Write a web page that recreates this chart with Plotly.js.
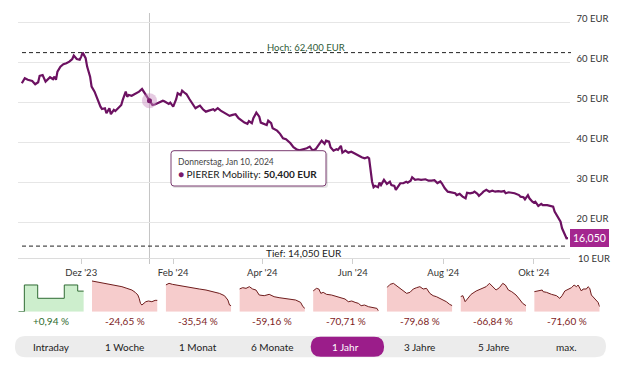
<!DOCTYPE html>
<html><head><meta charset="utf-8">
<script src="https://cdn.plot.ly/plotly-3.0.1.min.js"></script>
<style>html,body{margin:0;padding:0;background:#fff}#chart{width:620px;height:365px}</style>
</head><body><div id="chart"></div>
<script>
// ---------- DATA ----------
const dates = ['2023-10-22','2023-10-24','2023-10-26','2023-10-29','2023-10-31','2023-11-02','2023-11-03','2023-11-05','2023-11-07','2023-11-09','2023-11-10','2023-11-12','2023-11-13','2023-11-14','2023-11-15','2023-11-17','2023-11-19','2023-11-21','2023-11-23','2023-11-25','2023-11-26','2023-11-28','2023-11-30','2023-12-01','2023-12-02','2023-12-04','2023-12-05','2023-12-07','2023-12-08','2023-12-10','2023-12-12','2023-12-14','2023-12-15','2023-12-17','2023-12-18','2023-12-20','2023-12-21','2023-12-23','2023-12-24','2023-12-26','2023-12-28','2023-12-29','2023-12-31','2024-01-01','2024-01-02','2024-01-04','2024-01-06','2024-01-07','2024-01-09','2024-01-11','2024-01-13','2024-01-14','2024-01-16','2024-01-18','2024-01-20','2024-01-22','2024-01-25','2024-01-26','2024-01-29','2024-01-30','2024-02-01','2024-02-03','2024-02-04','2024-02-06','2024-02-07','2024-02-09','2024-02-10','2024-02-12','2024-02-14','2024-02-16','2024-02-17','2024-02-19','2024-02-21','2024-02-23','2024-02-25','2024-02-28','2024-02-29','2024-03-02','2024-03-04','2024-03-06','2024-03-08','2024-03-10','2024-03-12','2024-03-14','2024-03-16','2024-03-18','2024-03-20','2024-03-22','2024-03-23','2024-03-25','2024-03-26','2024-03-28','2024-03-30','2024-03-31','2024-04-02','2024-04-04','2024-04-05','2024-04-07','2024-04-08','2024-04-11','2024-04-13','2024-04-15','2024-04-17','2024-04-20','2024-04-22','2024-04-24','2024-04-26','2024-04-28','2024-05-01','2024-05-03','2024-05-05','2024-05-07','2024-05-10','2024-05-11','2024-05-13','2024-05-14','2024-05-16','2024-05-17','2024-05-19','2024-05-21','2024-05-22','2024-05-24','2024-05-25','2024-05-27','2024-05-29','2024-05-31','2024-06-02','2024-06-05','2024-06-07','2024-06-09','2024-06-11','2024-06-12','2024-06-13','2024-06-14','2024-06-15','2024-06-16','2024-06-18','2024-06-19','2024-06-20','2024-06-22','2024-06-24','2024-06-26','2024-06-27','2024-06-29','2024-06-30','2024-07-02','2024-07-03','2024-07-05','2024-07-07','2024-07-08','2024-07-10','2024-07-11','2024-07-13','2024-07-15','2024-07-17','2024-07-20','2024-07-22','2024-07-24','2024-07-26','2024-07-28','2024-07-30','2024-07-31','2024-08-02','2024-08-04','2024-08-07','2024-08-09','2024-08-10','2024-08-12','2024-08-14','2024-08-16','2024-08-17','2024-08-19','2024-08-21','2024-08-22','2024-08-24','2024-08-25','2024-08-27','2024-08-28','2024-08-30','2024-09-01','2024-09-03','2024-09-05','2024-09-07','2024-09-09','2024-09-11','2024-09-12','2024-09-14','2024-09-16','2024-09-18','2024-09-21','2024-09-22','2024-09-24','2024-09-25','2024-09-27','2024-09-28','2024-09-30','2024-10-01','2024-10-02','2024-10-04','2024-10-06','2024-10-07','2024-10-10','2024-10-12','2024-10-14','2024-10-15','2024-10-17','2024-10-19','2024-10-20','2024-10-22','2024-10-23','2024-10-24'];
const prices = [54.75,56.0,55.6,55.3,54.5,55.0,56.6,56.8,55.15,55.75,56.25,55.75,56.4,55.6,57.65,58.9,59.5,59.75,60.15,60.8,61.65,60.8,60.6,61.4,62.4,61.0,58.9,56.4,53.9,52.65,50.6,48.9,48.3,48.5,47.25,48.5,47.0,48.1,47.8,48.65,49.3,50.6,52.65,51.4,51.8,51.6,52.0,52.25,52.65,53.3,52.25,51.65,50.4,49.3,49.5,49.8,50.4,50.25,49.6,49.9,48.9,50.75,52.25,51.8,52.9,52.25,52.0,50.75,49.6,48.5,48.75,49.15,48.25,47.65,47.9,48.25,47.9,48.5,47.9,47.4,47.1,46.6,46.85,47.0,46.0,45.4,44.9,44.6,45.3,44.75,46.0,47.4,46.4,44.9,44.6,44.3,45.4,44.75,43.5,42.9,42.1,41.0,40.75,39.75,38.75,38.25,38.0,38.2,38.5,38.9,37.9,38.3,39.75,40.4,39.6,40.4,40.15,38.75,37.9,38.25,38.1,39.1,37.4,37.9,37.4,37.65,37.25,36.6,36.25,36.0,36.25,36.0,33.1,30.15,28.75,29.1,28.75,29.9,29.3,30.6,29.6,30.15,29.3,29.1,28.1,29.1,29.75,29.75,30.15,29.9,30.4,31.25,30.6,30.75,30.6,30.75,30.4,30.4,30.5,29.8,30.2,29.75,28.5,27.65,27.4,27.25,26.8,27.1,26.4,26.0,27.4,27.25,27.4,27.65,27.1,26.6,27.25,27.65,28.1,27.65,27.9,27.65,27.8,27.65,27.8,27.25,27.5,27.4,27.25,26.8,26.4,26.25,25.75,26.8,26.0,25.15,24.9,25.15,24.1,24.6,24.3,24.3,24.15,23.9,22.65,21.4,20.15,18.5,16.8,16.0,16.05];

const seriesName = 'PIERER Mobility';
const highValue = 62.4, lowValue = 14.05, lastValue = 16.05;
const highText = 'Hoch: 62,400 EUR', lowText = 'Tief: 14,050 EUR', lastText = '16,050';
const hoverDate = '2024-01-16', hoverValue = 50.4;
const tooltipTitle = 'Donnerstag, Jan 10, 2024', tooltipValue = '50,400 EUR';

const xTickVals = ['2023-12-01','2024-02-01','2024-04-01','2024-06-01','2024-08-01','2024-10-01'];
const xTickText = ["Dez '23","Feb '24","Apr '24","Jun '24","Aug '24","Okt '24"];
const yTickVals = [20,30,40,50,60,70];
const yTickText = ['20 EUR','30 EUR','40 EUR','50 EUR','60 EUR','70 EUR'];
const yBottomLabel = '10 EUR';

const periodLabels = ['Intraday','1 Woche','1 Monat','6 Monate','1 Jahr','3 Jahre','5 Jahre','max.'];
const periodChanges = ['+0,94 %','-24,65 %','-35,54 %','-59,16 %','-70,71 %','-79,68 %','-66,84 %','-71,60 %'];
const activePeriod = 4;

const sparkIntradayX = [0,9.2,29.6,70.2,90.7,100];
const sparkIntradayY = [0,81.7,41,81.7,63,63];
const sparkWeekX = [0,10.2,20.3,30.5,35.5,45.7,53.3,60.9,66,70,72,74,76.1,78.7,82.2,86.3,91.4,96.4,100];
const sparkWeekY = [93.9,89.8,86.7,83.7,81.6,76.5,71.4,66.3,59.2,51,40.8,25.5,20.4,25.5,30.6,32.7,30.6,34.7,34.7];
const sparkMonthX = [0,5.1,10.3,20.5,30.8,41,51.3,61.5,71.8,82,89.7,94.9,97.4,100];
const sparkMonthY = [81.6,86.7,83.7,79.6,76.5,73.5,69.4,66.3,61.2,56.1,49,35.7,20.4,18.4];
const spark6MX = [0,5.1,10.1,15.2,20.2,25.3,30.3,37.9,45.5,53,60.6,68.2,75.8,85.9,93.4,97,100];
const spark6MY = [69.4,73.5,71.4,76.5,69.4,66.3,51,49,53.1,45.9,42.9,40.8,38.8,35.7,28.6,15.3,10.2];
const spark1YX = [0,5.1,8.7,11.8,15.4,20.5,28.2,35.9,43.6,48.7,53.8,59,64.1,69.2,73.3,78.5,84.6,92.3,97.4,100];
const spark1YY = [63.3,71.4,69.4,56.1,59.2,53.1,51,45.9,40.8,38.8,30.6,32.7,28.6,25.5,18.4,20.4,15.3,12.2,10.2,2];
const spark3YX = [0,5.1,10.1,15.2,22.7,30.3,35.4,40.4,45.5,50.5,55.6,60.6,65.7,70.7,75.8,80.8,85.9,90.9,96,100];
const spark3YY = [73.5,83.7,86.7,79.6,69.4,56.1,59.2,69.4,73.5,76.5,69.4,71.4,56.1,49,45.9,40.8,35.7,30.6,22.4,18.4];
const spark5YX = [0,3.6,7.1,11.2,16.2,23.9,31.5,39.1,44.2,49.2,54.3,59.4,64.5,68.5,73.1,78.2,84.8,89.8,94.9,100];
const spark5YY = [45.9,49,30.6,40.8,53.1,63.3,69.4,76.5,86.7,76.5,66.3,73.5,86.7,81.6,66.3,61.2,51,38.8,25.5,18.4];
const sparkMaxX = [0,6.1,12.2,13.7,18.8,26.4,34,39.1,42.6,46.7,51.8,56.9,60.9,64.5,67,69.5,72.1,74.6,79.7,82.2,84.8,87.3,91.4,94.9,97.5,100];
const sparkMaxY = [61.2,63.3,66.3,61.2,59.2,53.1,49,40.8,49,63.3,69.4,73.5,81.6,76.5,81.6,71.4,63.3,69.4,69.4,76.5,71.4,51,42.9,35.7,28.6,15.3];

// ---------- LAYOUT HELPERS ----------
const W = 620, H = 365;
const fx = px => px / W;
const fy = py => 1 - py / H;
const FONT = 'Lato, "Noto Sans", sans-serif';
const purple = '#6c1161';

function roundRect(x0, y0, x1, y1, r) {
  const a = (x, y) => fx(x).toFixed(5) + ',' + fy(y).toFixed(5);
  return 'M' + a(x0 + r, y0) + ' L' + a(x1 - r, y0) + ' Q' + a(x1, y0) + ' ' + a(x1, y0 + r) +
    ' L' + a(x1, y1 - r) + ' Q' + a(x1, y1) + ' ' + a(x1 - r, y1) +
    ' L' + a(x0 + r, y1) + ' Q' + a(x0, y1) + ' ' + a(x0, y1 - r) +
    ' L' + a(x0, y0 + r) + ' Q' + a(x0, y0) + ' ' + a(x0 + r, y0) + ' Z';
}

const sparks = [
  [sparkIntradayX, sparkIntradayY], [sparkWeekX, sparkWeekY], [sparkMonthX, sparkMonthY],
  [spark6MX, spark6MY], [spark1YX, spark1YY], [spark3YX, spark3YY],
  [spark5YX, spark5YY], [sparkMaxX, sparkMaxY]
];

const traces = [];
traces.push({
  x: dates, y: prices, type: 'scatter', mode: 'lines',
  line: {color: purple, width: 2.2}, xaxis: 'x', yaxis: 'y', hoverinfo: 'skip'
});
traces.push({
  x: [hoverDate], y: [hoverValue], type: 'scatter', mode: 'markers',
  marker: {size: 15, color: 'rgba(200,140,190,0.45)'}, xaxis: 'x', yaxis: 'y', hoverinfo: 'skip'
});
traces.push({
  x: [hoverDate], y: [hoverValue], type: 'scatter', mode: 'markers',
  marker: {size: 5, color: '#7a1a6b'}, xaxis: 'x', yaxis: 'y', hoverinfo: 'skip'
});

const layout = {
  width: W, height: H,
  margin: {l: 0, r: 0, t: 0, b: 0},
  paper_bgcolor: '#fff', plot_bgcolor: '#fff',
  showlegend: false, hovermode: false,
  font: {family: FONT, color: '#333', size: 10},
  xaxis: {
    type: 'date', domain: [fx(18), fx(569.5)],
    range: ['2023-10-19 10:00', '2024-10-25 00:30'],
    tickvals: xTickVals, ticktext: xTickText,
    showgrid: false, zeroline: false,
    showline: true, linecolor: '#dcdcdc', linewidth: 1,
    ticks: 'outside', ticklen: 5, tickcolor: '#cfcfcf',
    tickfont: {size: 9.5, color: '#333', family: FONT},
    fixedrange: true
  },
  yaxis: {
    domain: [fy(258.3), fy(13)], range: [11.0, 72.3],
    side: 'right', tickvals: yTickVals, ticktext: yTickText,
    showgrid: true, gridcolor: '#e6e6e6', gridwidth: 1,
    zeroline: false, showline: false, ticks: '',
    ticklabelshift: -4, ticklabelstandoff: 6,
    tickfont: {size: 9.5, color: '#333', family: FONT},
    fixedrange: true
  },
  shapes: [], annotations: []
};

// sparkline subplots
const periodCenters = [];
for (let i = 0; i < 8; i++) {
  const x0 = 18.3 + 73.7 * i, x1 = x0 + 65.5;
  periodCenters.push((x0 + x1) / 2);
  const n = i + 2;
  layout['xaxis' + n] = {domain: [fx(x0), fx(x1)], range: [0, 100], visible: false, fixedrange: true, anchor: 'y' + n};
  layout['yaxis' + n] = {domain: [fy(311.7), fy(279)], range: [0, 100], visible: false, fixedrange: true, anchor: 'x' + n};
  const pos = i === 0;
  traces.push({
    x: sparks[i][0], y: sparks[i][1], type: 'scatter', mode: 'lines',
    fill: 'tozeroy', fillcolor: pos ? '#cdeecd' : '#f6cccc',
    line: {color: pos ? '#2f6b33' : '#6e1c1c', width: 1, shape: pos ? 'hv' : 'linear'},
    xaxis: 'x' + n, yaxis: 'y' + n, hoverinfo: 'skip'
  });
}

// crosshair
layout.shapes.push({type: 'line', xref: 'x', yref: 'paper', x0: hoverDate, x1: hoverDate,
  y0: fy(264), y1: fy(13), line: {color: '#c4c4c4', width: 1}, layer: 'below'});
// high / low dashed
layout.shapes.push({type: 'line', xref: 'paper', yref: 'y', x0: fx(22), x1: fx(571), y0: highValue, y1: highValue,
  line: {color: '#222', width: 1, dash: '4px,3px'}});
layout.shapes.push({type: 'line', xref: 'paper', yref: 'y', x0: fx(22), x1: fx(568), y0: lowValue, y1: lowValue,
  line: {color: '#222', width: 1, dash: '4px,3px'}});
// tooltip box
layout.shapes.push({type: 'path', xref: 'paper', yref: 'paper', path: roundRect(172, 152, 328, 188, 3),
  fillcolor: 'rgba(0,0,0,0.10)', line: {width: 0}});
layout.shapes.push({type: 'path', xref: 'paper', yref: 'paper', path: roundRect(171, 150.7, 326, 186, 3),
  fillcolor: '#ffffff', line: {color: '#7a3c70', width: 1}});
// button bar
layout.shapes.push({type: 'path', xref: 'paper', yref: 'paper', path: roundRect(15, 336, 606, 357.3, 10.5),
  fillcolor: '#ececec', line: {width: 0}});
layout.shapes.push({type: 'path', xref: 'paper', yref: 'paper', path: roundRect(310.7, 336.7, 384.1, 356.7, 10),
  fillcolor: '#9b1d8a', line: {width: 0}});

// annotations
const A = layout.annotations;
A.push({xref: 'paper', yref: 'paper', x: fx(306), y: fy(47.5), text: highText, showarrow: false,
  font: {size: 9.5, color: '#2f5a38', family: FONT}, xanchor: 'center', yanchor: 'middle'});
A.push({xref: 'paper', yref: 'paper', x: fx(304), y: fy(253), text: lowText, showarrow: false,
  font: {size: 10, color: '#222', family: FONT}, xanchor: 'center', yanchor: 'middle'});
A.push({xref: 'paper', yref: 'y', x: fx(570), y: lastValue, text: lastText, showarrow: false,
  bgcolor: '#a4268f', bordercolor: '#a4268f', borderpad: 2,
  font: {size: 10.5, color: '#fff', family: FONT}, xanchor: 'left', yanchor: 'middle'});
A.push({xref: 'paper', yref: 'paper', x: fx(575.5), y: fy(258.3), text: yBottomLabel, showarrow: false,
  font: {size: 9.5, color: '#333', family: FONT}, xanchor: 'left', yanchor: 'middle'});
A.push({xref: 'paper', yref: 'paper', x: fx(176), y: fy(161.5), text: tooltipTitle, showarrow: false,
  font: {size: 8.5, color: '#444', family: FONT}, xanchor: 'left', yanchor: 'middle'});
A.push({xref: 'paper', yref: 'paper', x: fx(176), y: fy(173.5),
  text: '<span style="color:#7a1a6b">●</span> ' + seriesName + ': <b>' + tooltipValue + '</b>', showarrow: false,
  font: {size: 10, color: '#222', family: FONT}, xanchor: 'left', yanchor: 'middle'});

for (let i = 0; i < 8; i++) {
  const pos = periodChanges[i].startsWith('+');
  A.push({xref: 'paper', yref: 'paper', x: fx(periodCenters[i]), y: fy(321), text: periodChanges[i], showarrow: false,
    font: {size: 10, color: pos ? '#2e6b2e' : '#7e1d1d', family: FONT}, xanchor: 'center', yanchor: 'middle'});
  A.push({xref: 'paper', yref: 'paper', x: fx(periodCenters[i]), y: fy(346.8), text: periodLabels[i], showarrow: false,
    font: {size: 10, color: i === activePeriod ? '#ffffff' : '#222', family: FONT}, xanchor: 'center', yanchor: 'middle'});
}

Plotly.newPlot('chart', traces, layout, {displayModeBar: false, staticPlot: true});
</script></body></html>
